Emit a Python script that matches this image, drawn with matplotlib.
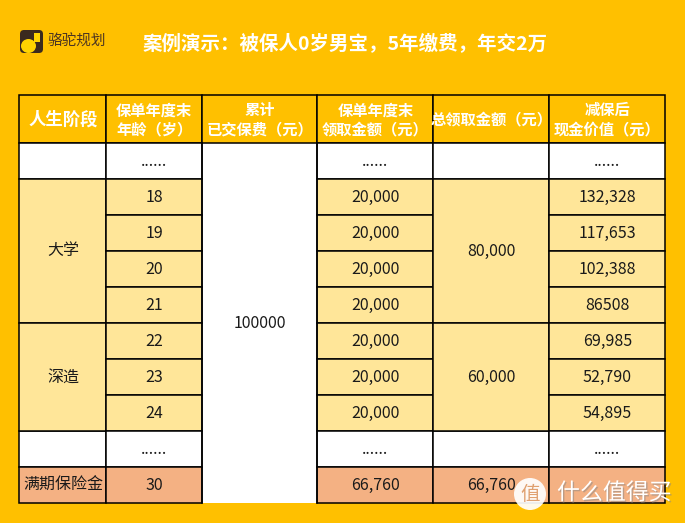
import matplotlib
matplotlib.use("Agg")
import matplotlib.pyplot as plt
from matplotlib.patches import Rectangle, FancyBboxPatch, Circle, Ellipse
import matplotlib.patheffects as pe

plt.rcParams['font.family'] = ['Noto Sans CJK SC', 'DejaVu Sans']

# --- data ---
title = "案例演示：被保人0岁男宝，5年缴费，年交2万"
brand = "骆驼规划"
headers = ["人生阶段", "保单年度末\n年龄（岁）", "累计\n已交保费（元）",
           "保单年度末\n领取金额（元）", "总领取金额（元）", "减保后\n现金价值（元）"]
ages = ["......", "18", "19", "20", "21", "22", "23", "24", "......", "30"]
stages = [("大学", 1, 4), ("深造", 5, 3)]          # label, first row, span
premium_total = "100000"
payouts = ["......", "20,000", "20,000", "20,000", "20,000",
           "20,000", "20,000", "20,000", "......", "66,760"]
total_groups = [("80,000", 1, 4), ("60,000", 5, 3)]
final_label = "满期保险金"
final_total = "66,760"
cash_values = ["......", "132,328", "117,653", "102,388", "86508",
               "69,985", "52,790", "54,895", "......", ""]
row_kind = ["white", "yellow", "yellow", "yellow", "yellow",
            "yellow", "yellow", "yellow", "white", "salmon"]

# --- layout / style ---
BG = "#FFC000"
COLORS = {"white": "#FFFFFF", "yellow": "#FFE699", "salmon": "#F4B183"}
col_edges = [19.5, 106.5, 202, 317.5, 433.5, 549.5, 665.5]
table_top = 94.5
header_h = 48.5
row_h = 36.0
LW = 1.1
TXT = "#1a1a1a"
FS = 11.5

fig = plt.figure(figsize=(6.85, 5.23), dpi=100, facecolor=BG)
ax = fig.add_axes([0, 0, 1, 1])
ax.set_xlim(0, 685)
ax.set_ylim(523, 0)
ax.axis("off")
ax.set_facecolor(BG)


def row_y(i):
    return table_top + header_h + i * row_h


def cell(c, r0, span, color, text=""):
    x0, x1 = col_edges[c], col_edges[c + 1]
    y0 = row_y(r0)
    h = span * row_h
    ax.add_patch(Rectangle((x0, y0), x1 - x0, h, facecolor=color,
                           edgecolor="black", lw=LW, zorder=2))
    if text:
        ax.text((x0 + x1) / 2, y0 + h / 2, text, ha="center", va="center",
                fontsize=FS, color=TXT, zorder=4)


# header
for c, h in enumerate(headers):
    x0, x1 = col_edges[c], col_edges[c + 1]
    ax.add_patch(Rectangle((x0, table_top), x1 - x0, header_h, facecolor=BG,
                           edgecolor="black", lw=LW, zorder=2))
    ax.text((x0 + x1) / 2, table_top + header_h / 2 + 1, h, ha="center", va="center",
            fontsize=12.5 if c == 0 else 11, color="white", fontweight="bold",
            linespacing=1.2, zorder=4)

n = len(ages)
# column 0: stages
merged0 = {r for _, r0, s in stages for r in range(r0, r0 + s)}
for r in range(n):
    if r not in merged0:
        cell(0, r, 1, COLORS[row_kind[r]], final_label if r == n - 1 else "")
for lab, r0, s in stages:
    cell(0, r0, s, COLORS["yellow"], lab)

# column 1: ages
for r, a in enumerate(ages):
    cell(1, r, 1, COLORS[row_kind[r]], a)

# column 2: merged premium, white, open bottom
x0, x1 = col_edges[2], col_edges[3]
ax.add_patch(Rectangle((x0, row_y(0)), x1 - x0, n * row_h, facecolor="white",
                       edgecolor="none", zorder=1))
ax.plot([x0, x0], [row_y(0), row_y(n)], color="black", lw=LW, zorder=3)
ax.plot([x1, x1], [row_y(0), row_y(n)], color="black", lw=LW, zorder=3)
ax.text((x0 + x1) / 2, row_y(0) + n * row_h / 2, premium_total, ha="center",
        va="center", fontsize=FS, color=TXT, zorder=4)

# column 3: payouts
for r, p in enumerate(payouts):
    cell(3, r, 1, COLORS[row_kind[r]], p)

# column 4: totals
merged4 = {r for _, r0, s in total_groups for r in range(r0, r0 + s)}
for r in range(n):
    if r not in merged4:
        cell(4, r, 1, COLORS[row_kind[r]], final_total if r == n - 1 else "")
for lab, r0, s in total_groups:
    cell(4, r0, s, COLORS["yellow"], lab)

# column 5: cash values
for r, v in enumerate(cash_values):
    cell(5, r, 1, COLORS[row_kind[r]], v)

# title and brand
ax.text(143, 43, title, ha="left", va="center", fontsize=14, color="white",
        fontweight="bold", zorder=5)
ax.add_patch(FancyBboxPatch((20, 30), 23, 23, boxstyle="round,pad=0,rounding_size=4",
                            facecolor="#3b2a1e", edgecolor="none", zorder=5))
ax.add_patch(Ellipse((28.5, 46), 15, 14, facecolor="#FFD400", edgecolor="none", zorder=6))
ax.add_patch(Rectangle((34.5, 33), 6, 9, facecolor="#FFD400", edgecolor="none", zorder=6))
ax.text(48, 42, brand, ha="left", va="center", fontsize=10.5, color="#4a3322", zorder=5)

# watermark
shadow = [pe.withSimplePatchShadow(offset=(1, -1), shadow_rgbFace="#888888", alpha=0.5)]
ax.add_patch(Circle((530, 494), 16, facecolor="white", edgecolor="none", alpha=0.92, zorder=7))
ax.text(530, 494, "值", ha="center", va="center", fontsize=14, color="#e0a070", zorder=8)
ax.text(557, 493, "什么值得买", ha="left", va="center", fontsize=16.5, color="white",
        zorder=8, path_effects=shadow)

fig.savefig("out.png", dpi=100, facecolor=BG)
